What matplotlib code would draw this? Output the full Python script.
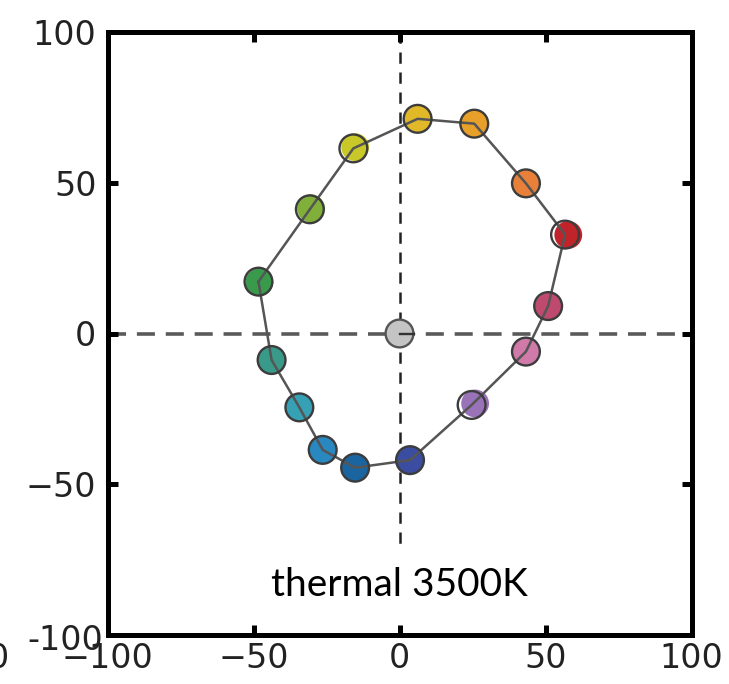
import matplotlib
matplotlib.use("Agg")
import matplotlib.pyplot as plt

plt.rcParams["font.family"] = ["DejaVu Sans"]

# reference (filled) positions
ref_x = [-48.0, -43.8, -34.3, -26.3, -15.2, 3.6, 25.9, 43.3, 51.1, 57.8, 43.3, 25.6, 6.4, -15.2, -30.3]
ref_y = [17.0, -8.8, -24.5, -38.6, -44.5, -42.0, -23.2, -6.0, 8.9, 32.7, 49.8, 69.6, 71.4, 61.8, 41.5]
# test (outlined) positions
test_x = [-48.3, -43.8, -34.3, -26.3, -15.2, 3.6, 24.7, 43.3, 50.9, 56.7, 43.3, 25.6, 6.2, -15.8, -30.7]
test_y = [17.2, -8.8, -24.5, -38.6, -44.5, -42.0, -23.7, -6.0, 9.1, 32.8, 49.8, 69.6, 71.2, 61.4, 41.2]
colors = ["#3a9a4c", "#3a9a8a", "#36a0b4", "#2a88c0", "#1a65a0", "#3a4da0", "#9a72b8",
          "#d07aaa", "#be4a70", "#c0242a", "#e8803a", "#e8a02a", "#e0b828", "#c8c828", "#80b03a"]
center_x, center_y = [0.0], [0.0]
label = "thermal 3500K"
ticks = [-100, -50, 0, 50, 100]

fig = plt.figure(figsize=(7.29, 6.84), dpi=100)
ax = fig.add_axes([107.5 / 729, (684 - 635) / 684, (691.5 - 107.5) / 729, (635 - 32) / 684])
ax.set_xlim(-100, 100)
ax.set_ylim(-100, 100)

ax.plot([-100, 100], [0, 0], ls=(0, (5, 3)), color="#5a5a5a", lw=2.6, zorder=1)
ax.plot([0, 0], [100, -71], ls=(0, (4.5, 3.5)), color="#222222", lw=1.8, zorder=1)

S = 400
ax.scatter(ref_x, ref_y, s=S, c=colors, edgecolors="none", zorder=2)
ax.scatter(center_x, center_y, s=S, c="#c4c4c4", edgecolors="none", zorder=2)
ax.plot(test_x + [test_x[0]], test_y + [test_y[0]], color="#555555", lw=1.8, zorder=3)
ax.scatter(test_x, test_y, s=S, facecolors="none", edgecolors="#3c3c3c", linewidths=1.7, zorder=4)
ax.scatter(center_x, center_y, s=S, facecolors="none", edgecolors="#555555", linewidths=1.7, zorder=4)
ax.plot([0, 5], [0, 0], color="#333333", lw=1.7, zorder=5)

ax.text(0, -83.5, label, ha="center", va="center", fontsize=28, family="Lato", color="black")

for s in ax.spines.values():
    s.set_linewidth(3.6)
ax.set_xticks(ticks)
ax.set_xticklabels(["\u2212100", "\u221250", "0", "50", "100"])
ax.set_yticks(ticks[1:])
ax.set_yticklabels(["\u221250", "0", "50", "100"])
ax.tick_params(direction="in", length=7, width=3.6, top=True, right=True, labelsize=24,
               labelcolor="#222222")
ax.tick_params(axis="x", pad=5)
ax.tick_params(axis="y", pad=8)
fig.text(103 / 729, 1 - 640 / 684, "-100", ha="right", va="center", fontsize=24, color="#222222")
fig.text(-12 / 729, 1 - 658 / 684, "0", ha="left", va="center", fontsize=24, color="#222222")

fig.savefig("out.png", dpi=100)
